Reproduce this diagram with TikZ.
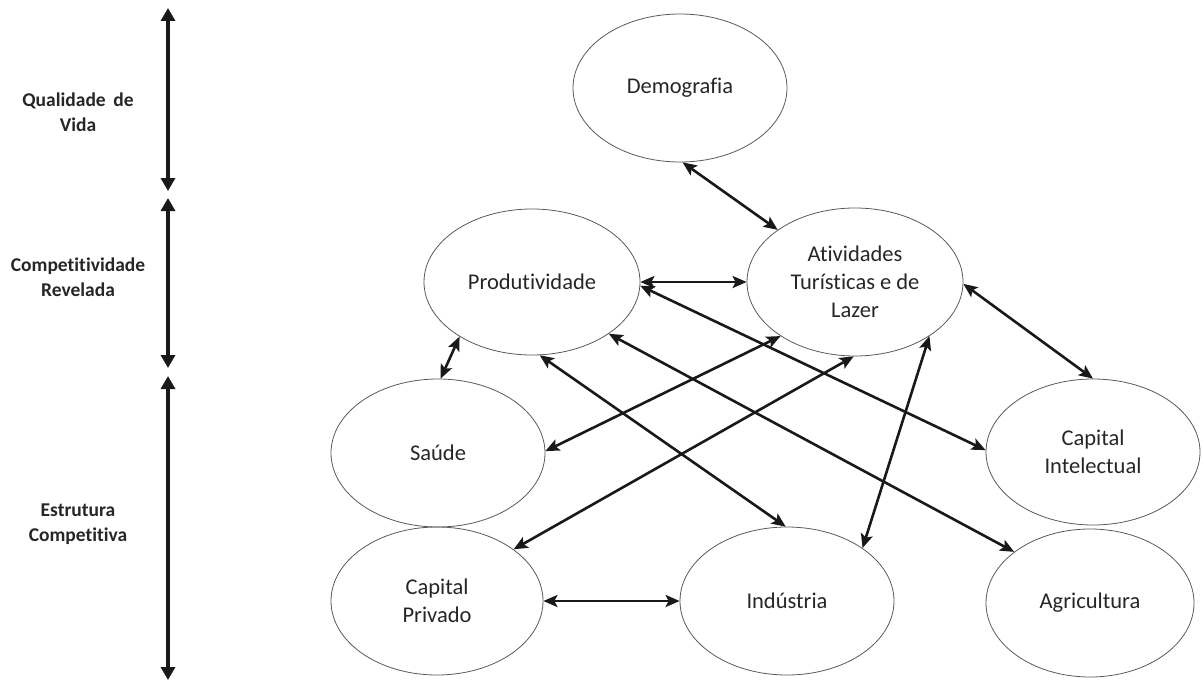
\documentclass[tikz,border=0pt]{standalone}
\usepackage{fontspec}
\setmainfont{Carlito}[Ligatures={NoCommon,NoContextual}]
\usetikzlibrary{arrows.meta,shapes.geometric}
\begin{document}
\begin{tikzpicture}[x=1pt,y=-1pt,
  bubble/.style={ellipse, draw=black!65, line width=0.8pt, inner sep=0pt,
    align=center, text=black!85, font=\fontsize{22.5}{28}\selectfont},
  link/.style={line width=2.6pt, draw=black!90,
    {Stealth[length=14pt,width=12pt,inset=3pt]}-{Stealth[length=14pt,width=12pt,inset=3pt]}},
  axis/.style={line width=4pt, draw=black!90,
    {Triangle[length=13pt,width=14pt]}-{Triangle[length=13pt,width=14pt]}},
  level/.style={align=center, text=black!85, font=\bfseries\fontsize{19.5}{25}\selectfont}]
\useasboundingbox (0,0) rectangle (1204,682);

% scale of levels on the left
\coordinate (a1) at (168,8);
\coordinate (a2) at (168,191);
\coordinate (b1) at (168,198);
\coordinate (b2) at (168,368);
\coordinate (c1) at (168,376);
\coordinate (c2) at (168,680);
\draw[axis] (a1) -- (a2);
\draw[axis] (b1) -- (b2);
\draw[axis] (c1) -- (c2);

\node[level] (qv) at (78,112) {Qualidade\, de\\Vida};
\node[level] (cr) at (78,277) {Competitividade\\Revelada};
\node[level] (ec) at (78,524) {Estrutura\\Competitiva};

% factors
\node[bubble, minimum width=214pt, minimum height=148pt] (demo) at (680,88) {Demografia};
\node[bubble, minimum width=216pt, minimum height=146pt] (prod) at (532,282) {Produtividade};
\node[bubble, minimum width=216pt, minimum height=148pt] (ativ) at (855,282) {Atividades\\Turísticas e de\\Lazer};
\node[bubble, minimum width=214pt, minimum height=148pt] (saude) at (438,453) {Saúde};
\node[bubble, minimum width=214pt, minimum height=146pt] (capint) at (1093,452) {Capital\\Intelectual};
\node[bubble, minimum width=212pt, minimum height=148pt] (cappriv) at (437,601) {Capital\\Privado};
\node[bubble, minimum width=214pt, minimum height=148pt] (ind) at (787,601) {Indústria};
\node[bubble, minimum width=208pt, minimum height=148pt] (agri) at (1090,603) {Agricultura};

% relations
\draw[link] (demo.-88) -- (ativ.146);
\draw[link] (prod.east) -- (ativ.west);
\draw[link] (prod.-143) -- (saude.88);
\draw[link] (ativ.-144) -- (saude.1);
\draw[link] (ativ.-91) -- (cappriv.34);
\draw[link] (prod.-2) -- (capint.179);
\draw[link] (prod.-84) -- (ind.91);
\draw[link] (prod.-34) -- (agri.146);
\draw[link] (ativ.-36) -- (ind.35);
\draw[link] (ativ.-1) -- (capint.90);
\draw[link] (cappriv.east) -- (ind.west);
\end{tikzpicture}
\end{document}
